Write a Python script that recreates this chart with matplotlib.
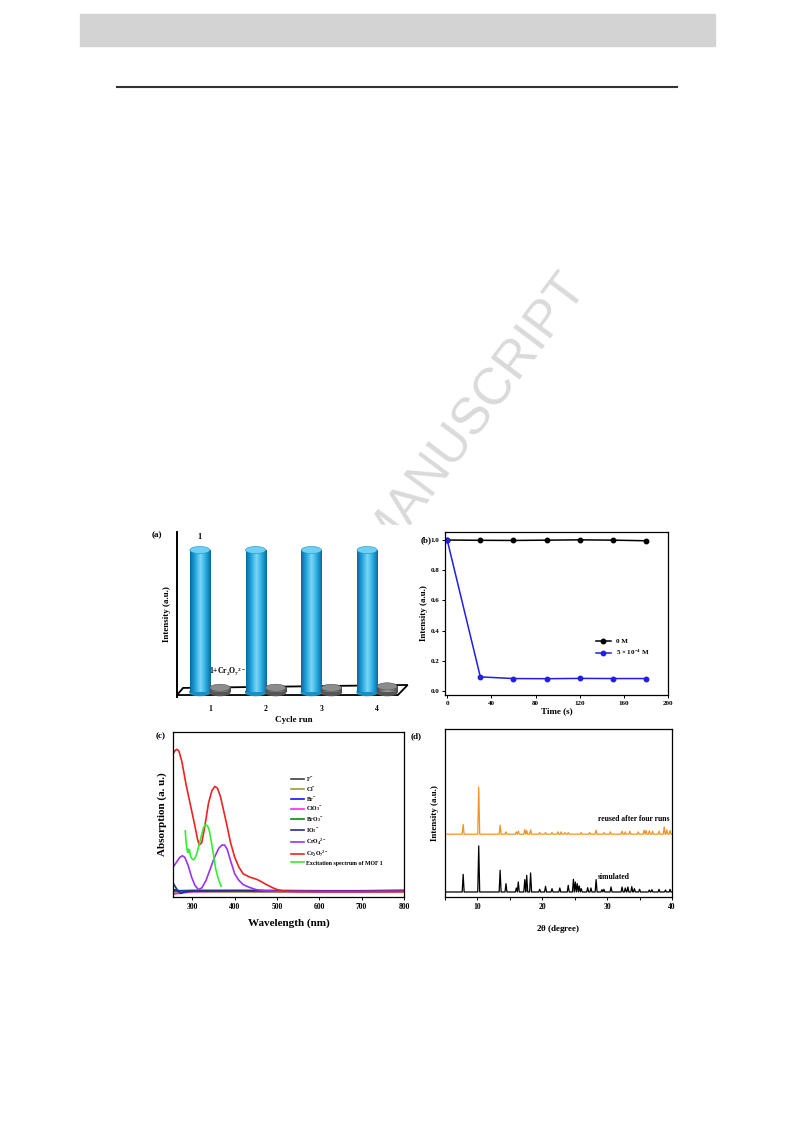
import numpy as np
import matplotlib
matplotlib.use("Agg")
import matplotlib.pyplot as plt
from matplotlib.patches import Rectangle, Ellipse, Polygon
from matplotlib.colors import LinearSegmentedColormap
from matplotlib.lines import Line2D

plt.rcParams['font.family'] = ['Liberation Serif', 'DejaVu Serif']
plt.rcParams['font.weight'] = 'bold'
plt.rcParams['axes.labelweight'] = 'bold'
plt.rcParams['mathtext.fontset'] = 'custom'
plt.rcParams['mathtext.rm'] = 'Liberation Serif:bold'
plt.rcParams['mathtext.it'] = 'Liberation Serif:bold'
plt.rcParams['mathtext.bf'] = 'Liberation Serif:bold'

# ---- data ----
# (a) recycling
cycles = [1, 2, 3, 4]
mof_int = [1.0, 1.0, 1.0, 1.0]
quench_int = [0.03, 0.03, 0.03, 0.04]

# (b) time dependence
time_s = [0, 30, 60, 90, 120, 150, 180]
int_0M = [1.0, 0.998, 0.997, 0.999, 1.001, 0.999, 0.995]
int_5e4M = [1.0, 0.093, 0.082, 0.081, 0.083, 0.082, 0.082]

# (c) UV-vis absorption
base_wl = [254, 270, 300, 400, 500, 600, 700, 800]
abs_F = [0.040, 0.036, 0.035, 0.034, 0.033, 0.033, 0.033, 0.034]
abs_Cl = [0.030, 0.030, 0.031, 0.031, 0.030, 0.030, 0.030, 0.031]
abs_Br = [0.045, 0.038, 0.040, 0.040, 0.039, 0.038, 0.038, 0.040]
abs_ClO3 = [0.018, 0.022, 0.032, 0.035, 0.034, 0.033, 0.033, 0.034]
abs_BrO3 = [0.035, 0.033, 0.036, 0.037, 0.036, 0.035, 0.035, 0.036]
io3_wl = [254, 260, 266, 272, 280, 300, 400, 500, 600, 700, 800]
abs_IO3 = [0.085, 0.060, 0.035, 0.022, 0.030, 0.036, 0.038, 0.038, 0.037, 0.037, 0.039]
cro4_wl = [254, 262, 270, 276, 282, 290, 298, 306, 314, 322, 332, 342, 352, 362,
           370, 376, 382, 390, 400, 410, 420, 435, 450, 470, 500, 600, 700, 800]
abs_CrO4 = [0.18, 0.21, 0.24, 0.25, 0.24, 0.19, 0.12, 0.07, 0.045, 0.055, 0.10, 0.17,
            0.24, 0.295, 0.315, 0.315, 0.29, 0.22, 0.14, 0.10, 0.075, 0.058, 0.045,
            0.038, 0.035, 0.034, 0.034, 0.035]
cr2o7_wl = [254, 258, 263, 268, 275, 285, 295, 305, 312, 316, 322, 328, 338, 346,
            353, 359, 366, 374, 381, 390, 400, 410, 420, 436, 452, 465, 475, 488,
            499, 515, 550, 600, 700, 800]
abs_Cr2O7 = [0.865, 0.885, 0.895, 0.885, 0.82, 0.68, 0.56, 0.44, 0.35, 0.315, 0.33,
             0.41, 0.57, 0.645, 0.67, 0.66, 0.61, 0.52, 0.44, 0.33, 0.24, 0.18,
             0.14, 0.12, 0.107, 0.09, 0.075, 0.058, 0.046, 0.036, 0.033, 0.032,
             0.032, 0.033]
exc_wl = [283, 285, 287, 289, 290, 291, 293, 295, 298, 302, 306, 310, 315, 320,
          326, 331, 336, 340, 345, 350, 355, 360, 364, 368]
exc_int = [0.40, 0.33, 0.29, 0.27, 0.29, 0.27, 0.285, 0.25, 0.235, 0.225, 0.235,
           0.26, 0.31, 0.36, 0.42, 0.44, 0.43, 0.40, 0.33, 0.25, 0.17, 0.12, 0.09,
           0.065]

# (d) PXRD peaks (2theta, height)
sim_pos = [7.8, 10.2, 13.5, 14.4, 16.0, 16.3, 17.3, 17.6, 18.2, 19.6, 20.5, 21.5,
           22.7, 24.0, 24.8, 25.1, 25.4, 25.7, 26.0, 27.0, 27.5, 28.3, 29.2, 29.5,
           30.6, 32.3, 32.8, 33.2, 33.8, 34.2, 35.0, 36.5, 36.9, 38.0, 39.0, 39.7]
sim_h = [53, 138, 65, 25, 12, 30, 37, 50, 57, 8, 17, 10, 12, 20, 38, 30, 25, 18,
         10, 13, 12, 37, 7, 8, 15, 15, 12, 15, 16, 10, 8, 6, 7, 8, 6, 8]
reu_pos = [7.8, 10.2, 13.5, 14.4, 16.0, 16.3, 17.3, 17.6, 18.2, 19.6, 20.5, 21.5,
           22.4, 22.9, 23.5, 24.0, 26.0, 27.3, 28.3, 29.5, 30.5, 32.3, 32.8, 33.5,
           34.8, 35.7, 36.0, 36.5, 37.0, 38.0, 38.8, 39.2, 39.7]
reu_h = [29, 141, 27, 7, 7, 9, 14, 11, 13, 5, 5, 5, 7, 7, 5, 5, 5, 5, 12, 5, 7, 9,
         7, 9, 7, 12, 11, 10, 9, 9, 22, 13, 11]
sim_base = 15
reu_base = 188

W, H = 793, 1121


def rect(x0, y0, x1, y1):
    return [x0 / W, 1 - y1 / H, (x1 - x0) / W, (y1 - y0) / H]


fig = plt.figure(figsize=(W / 100, H / 100), dpi=100)

# page decoration
fig.patches.append(Rectangle((80 / W, 1 - 46 / H), 635 / W, 32 / H,
                             transform=fig.transFigure, color='#d3d3d3', zorder=-3))
fig.add_artist(Line2D([117 / W, 677 / W], [1 - 87 / H, 1 - 87 / H],
                      transform=fig.transFigure, color='#333333', lw=1.5))
fig.text(588 / W, 1 - 289 / H, 'ACCEPTED MANUSCRIPT', rotation=53.2,
         rotation_mode='anchor', ha='right', va='baseline', fontsize=37,
         family='Liberation Sans', weight='normal', color='#dadada', zorder=-3)
fig.patches.append(Rectangle((148 / W, 1 - 940 / H), 535 / W, 415 / H,
                             transform=fig.transFigure, color='white', zorder=-2))

tick_fs = 5.5
lab_fs = 6.5


def cylinder(ax, xc, h, w, colors, cap, edge):
    cmap = LinearSegmentedColormap.from_list('cyl', colors)
    grad = np.linspace(0, 1, 64).reshape(1, -1)
    ax.add_patch(Ellipse((xc, 0), w, 0.05, color=edge, zorder=2))
    ax.imshow(grad, extent=[xc - w / 2, xc + w / 2, 0, h], aspect='auto',
              cmap=cmap, zorder=3)
    ax.add_patch(Ellipse((xc, h), w, 0.05, facecolor=cap, edgecolor=edge,
                         lw=0.4, zorder=4))


# ---- (a) ----
axa = fig.add_axes(rect(177, 532, 410, 697))
for s in ['top', 'right', 'bottom']:
    axa.spines[s].set_visible(False)
axa.spines['left'].set_linewidth(1.4)
axa.add_patch(Polygon([[0, 0.012], [0.026, 0.055], [0.99, 0.073], [0.948, 0.012]],
                      closed=True, fill=False, edgecolor='black', lw=1.3,
                      transform=axa.transAxes, clip_on=False, zorder=1))
blue = ['#0a6a9e', '#22a6e0', '#7fd6f5', '#2aaee4', '#0a6a9e']
grey = ['#4a4a4a', '#7a7a7a', '#a0a0a0', '#7a7a7a', '#4a4a4a']
for c, v, q in zip(cycles, mof_int, quench_int):
    cylinder(axa, c - 0.18, v, 0.36, blue, '#6fd0f3', '#1a8fc4')
    cylinder(axa, c + 0.18, q, 0.36, grey, '#8c8c8c', '#555555')
axa.set_xlim(0.41, 4.59)
axa.set_ylim(-0.035, 1.127)
axa.set_xticks(cycles)
axa.set_xticklabels([str(c) for c in cycles])
axa.tick_params(axis='x', length=0, pad=6, labelsize=tick_fs)
axa.set_yticks([])
axa.set_xlabel('Cycle run', fontsize=lab_fs, labelpad=2)
axa.set_ylabel('Intensity (a.u.)', fontsize=lab_fs, labelpad=4)
axa.text(cycles[0] - 0.18, 1.095, '1', ha='center', va='center', fontsize=6)
axa.text(cycles[0] + 0.32, 0.14, r'1+Cr$_2$O$_7$$^{2-}$', ha='center',
         va='center', fontsize=5.5)

# ---- (b) ----
axb = fig.add_axes(rect(445, 532, 668, 695))
axb.plot(time_s, int_0M, '-o', color='black', lw=1.1, ms=3.2, label='0 M')
axb.plot(time_s, int_5e4M, '-o', color='#1f1fe6', lw=1.1, ms=3.2,
         label=r'5 $\times$ 10$^{-4}$ M')
axb.set_xlim(-2, 200)
axb.set_ylim(-0.027, 1.053)
axb.set_xticks([0, 40, 80, 120, 160, 200])
axb.set_yticks([0.0, 0.2, 0.4, 0.6, 0.8, 1.0])
axb.set_yticklabels(['0.0', '0.2', '0.4', '0.6', '0.8', '1.0'])
axb.tick_params(direction='out', length=2.5, width=0.7, labelsize=5, pad=1.5)
axb.set_xlabel('Time (s)', fontsize=lab_fs, labelpad=1)
axb.set_ylabel('Intensity (a.u.)', fontsize=lab_fs, labelpad=2)
axb.legend(loc='upper left', bbox_to_anchor=(0.66, 0.37), frameon=False,
           fontsize=5, handlelength=2.2, labelspacing=0.6, borderpad=0)
for s in axb.spines.values():
    s.set_linewidth(0.9)

# ---- (c) ----
axc = fig.add_axes(rect(173, 732, 404, 897))
axc.plot(base_wl, abs_F, color='#404040', lw=1.2, label=r'F$^{-}$')
axc.plot(base_wl, abs_Cl, color='#9c9a34', lw=1.2, label=r'Cl$^{-}$')
axc.plot(base_wl, abs_Br, color='#1010ff', lw=1.2, label=r'Br$^{-}$')
axc.plot(base_wl, abs_ClO3, color='#ff22ff', lw=1.2, label=r'ClO$_3$$^{-}$')
axc.plot(base_wl, abs_BrO3, color='#0a8a0a', lw=1.2, label=r'BrO$_3$$^{-}$')
axc.plot(io3_wl, abs_IO3, color='#2b2b8c', lw=1.2, label=r'IO$_3$$^{-}$')
axc.plot(cro4_wl, abs_CrO4, color='#9933ee', lw=1.2, label=r'CrO$_4$$^{2-}$')
axc.plot(cr2o7_wl, abs_Cr2O7, color='#ee2222', lw=1.2, label=r'Cr$_2$O$_7$$^{2-}$')
axc.plot(exc_wl, exc_int, color='#33ee33', lw=1.2, label='Excitation spectrum of MOF 1')
axc.set_xlim(254, 800)
axc.set_ylim(0, 1)
axc.set_xticks([300, 400, 500, 600, 700, 800])
axc.set_yticks([])
axc.tick_params(direction='out', length=2.5, width=0.7, labelsize=5.5, pad=1.5)
axc.set_xlabel('Wavelength (nm)', fontsize=8, labelpad=6)
axc.set_ylabel('Absorption (a. u.)', fontsize=8, labelpad=4)
axc.legend(loc='upper left', bbox_to_anchor=(0.5, 0.755), frameon=False,
           fontsize=4.2, handlelength=2.2, labelspacing=0.3, borderpad=0,
           handletextpad=0.3)
for s in axc.spines.values():
    s.set_linewidth(0.9)

# ---- (d) ----
axd = fig.add_axes(rect(445, 729, 672, 897))


def spikes(pos, h, base, w=0.15):
    xs, ys = [5.0], [base]
    for p, v in zip(pos, h):
        xs += [p - w, p, p + w]
        ys += [base, base + v, base]
    xs.append(40.0)
    ys.append(base)
    return xs, ys


sx, sy = spikes(sim_pos, sim_h, sim_base)
rx, ry = spikes(reu_pos, reu_h, reu_base)
axd.plot(sx, sy, color='black', lw=0.9)
axd.plot(rx, ry, color='#f39325', lw=0.9)
axd.set_xlim(5, 40)
axd.set_ylim(0, 503)
axd.set_xticks([10, 20, 30, 40])
axd.set_xticks([5, 15, 25, 35], minor=True)
axd.set_yticks([])
axd.tick_params(which='both', direction='out', length=2.5, width=0.7,
                labelsize=5.5, pad=1.5)
axd.set_xlabel(r'2$\theta$ (degree)', fontsize=lab_fs, labelpad=9)
axd.set_ylabel('Intensity (a.u.)', fontsize=lab_fs, labelpad=4)
axd.text(39.6, reu_base + 45, 'reused after four runs', ha='right',
         va='center', fontsize=5.5)
axd.text(33.5, sim_base + 45, 'simulated', ha='right', va='center', fontsize=5.5)
for s in axd.spines.values():
    s.set_linewidth(0.9)

# panel tags
for tag, x, y in [('(a)', 152, 535), ('(b)', 421, 540), ('(c)', 156, 736),
                  ('(d)', 411, 736)]:
    fig.text(x / W, 1 - y / H, tag, fontsize=6.5, ha='left', va='center')

fig.savefig('out.png', dpi=100)
